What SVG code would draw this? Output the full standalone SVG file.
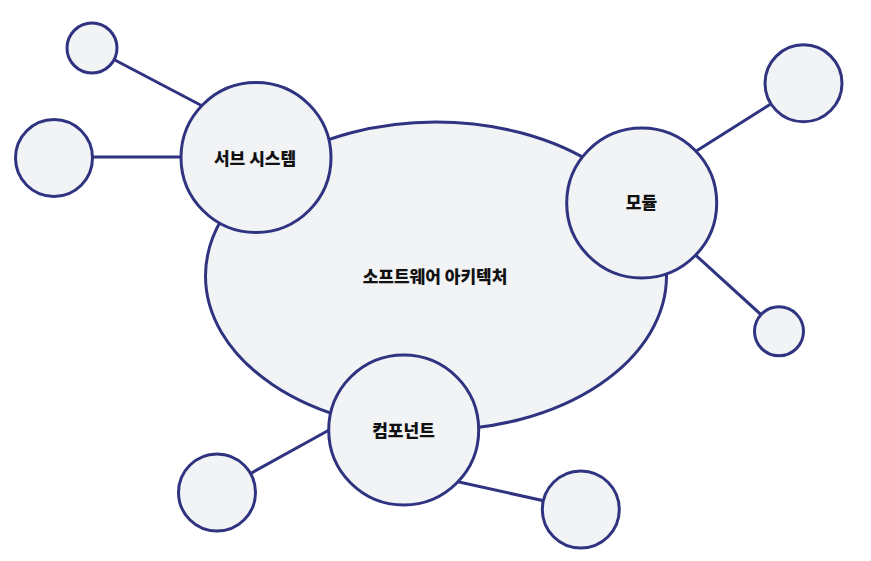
<svg xmlns="http://www.w3.org/2000/svg" width="871" height="561" viewBox="0 0 871 561">
<style>
.n{fill:#f2f3f5;stroke:#2f3380;stroke-width:3}
.c line{stroke:#2f3380;stroke-width:3}
.t{font-family:"Noto Sans CJK KR","Noto Sans",sans-serif;font-weight:900;font-size:17px;fill:#111;text-anchor:middle;dominant-baseline:central}
</style>
<rect width="871" height="561" fill="#ffffff"/>
<g id="connectors" class="c">
<line x1="92" y1="48" x2="210" y2="110"/>
<line x1="54" y1="157" x2="190" y2="157"/>
<line x1="804" y1="83" x2="690" y2="155"/>
<line x1="779" y1="331" x2="690" y2="250"/>
<line x1="217" y1="492" x2="340" y2="424"/>
<line x1="581" y1="509" x2="450" y2="480"/>
</g>
<g id="architecture"><ellipse class="n" cx="436" cy="276" rx="230.5" ry="154"/><text class="t" x="435" y="275">소프트웨어 아키텍처</text></g>
<g id="subsystem"><circle class="n" cx="256" cy="157.5" r="75"/><text class="t" x="255" y="157">서브 시스템</text></g>
<g id="module"><circle class="n" cx="641.7" cy="203" r="75"/><text class="t" x="641.5" y="201.5">모듈</text></g>
<g id="component"><circle class="n" cx="403.7" cy="430" r="75"/><text class="t" x="403.5" y="429.5">컴포넌트</text></g>
<g id="sub-leaf1"><circle class="n" cx="92" cy="48" r="25"/></g>
<g id="sub-leaf2"><circle class="n" cx="54" cy="158" r="38.5"/></g>
<g id="mod-leaf1"><circle class="n" cx="803.5" cy="83.3" r="38.5"/></g>
<g id="mod-leaf2"><circle class="n" cx="779" cy="331.3" r="24.5"/></g>
<g id="comp-leaf1"><circle class="n" cx="217" cy="492.5" r="38.5"/></g>
<g id="comp-leaf2"><circle class="n" cx="580.8" cy="509.5" r="38.5"/></g>
</svg>
